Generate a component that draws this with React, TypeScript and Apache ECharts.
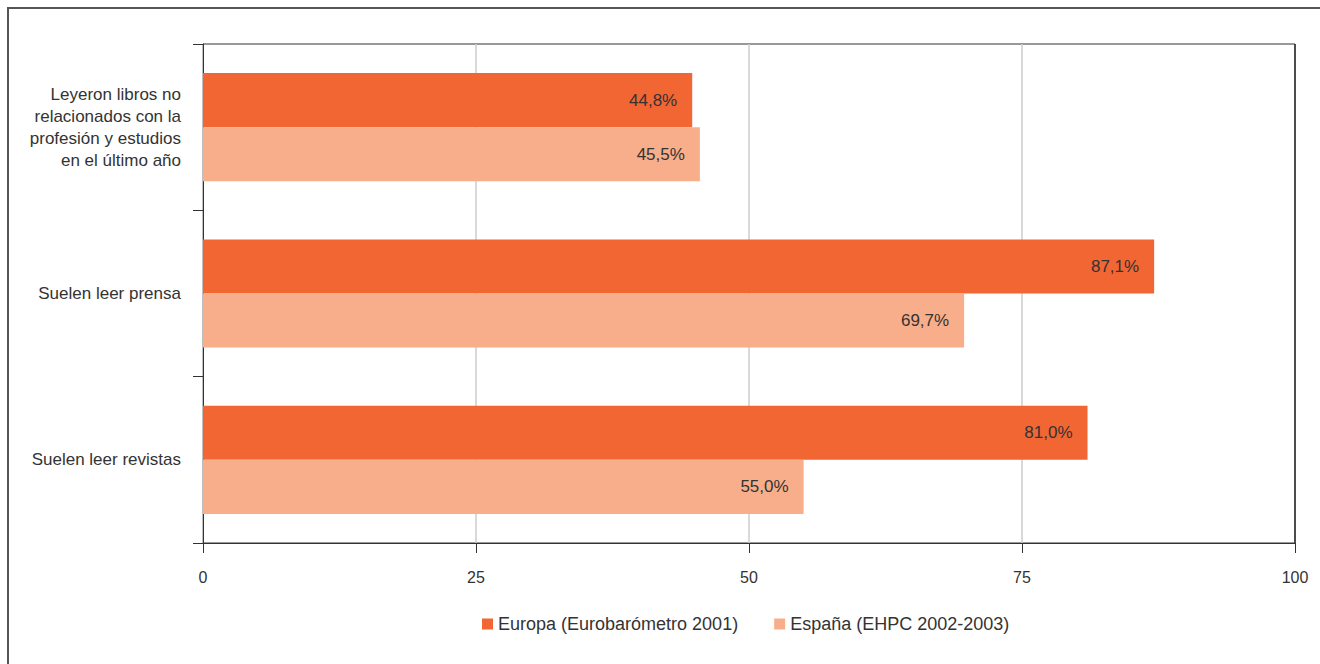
import React, { useEffect, useRef } from "react";
import * as echarts from "echarts";

const categories = [
  "Leyeron libros no\nrelacionados con la\nprofesión y estudios\nen el último año",
  "Suelen leer prensa",
  "Suelen leer revistas",
];
const seriesNames = ["Europa (Eurobarómetro 2001)", "España (EHPC 2002-2003)"];
const europa = [44.8, 87.1, 81.0];
const espana = [45.5, 69.7, 55.0];
const xTicks = { min: 0, max: 100, interval: 25 };

const FONT = "'Liberation Sans', Arial, sans-serif";
const fmt = (v: number) => v.toFixed(1).replace(".", ",") + "%";

export default function App() {
  const ref = useRef<HTMLDivElement>(null);
  useEffect(() => {
    if (!ref.current) return;
    const chart = echarts.init(ref.current, undefined, { renderer: "svg" });
    const label = {
      show: true,
      position: "insideRight" as const,
      distance: 15,
      color: "#333",
      fontFamily: FONT,
      fontSize: 17,
      formatter: (p: any) => fmt(p.value),
    };
    chart.setOption({
      animation: false,
      backgroundColor: "#fff",
      textStyle: { fontFamily: FONT },
      grid: {
        left: 203,
        right: 25,
        top: 44,
        bottom: 121,
        show: true,
        borderColor: "#333",
        borderWidth: 1,
      },
      legend: {
        left: 482,
        top: 615,
        padding: 0,
        itemWidth: 11,
        itemHeight: 11,
        itemGap: 36,
        icon: "rect",
        textStyle: { color: "#333", fontSize: 18, fontFamily: FONT },
        data: seriesNames,
      },
      xAxis: {
        type: "value",
        min: xTicks.min,
        max: xTicks.max,
        interval: xTicks.interval,
        axisLine: { show: true, lineStyle: { color: "#333", width: 1 } },
        axisTick: { show: true, length: 10, lineStyle: { color: "#333" } },
        axisLabel: { color: "#333", fontSize: 16, margin: 26, fontFamily: FONT },
        splitLine: {
          show: true,
          lineStyle: { color: ["#ccc", "#ccc", "#ccc", "#ccc", "#333"], width: 1.5 },
        },
      },
      yAxis: {
        type: "category",
        inverse: true,
        data: categories,
        axisLine: { show: true, lineStyle: { color: "#333", width: 1 } },
        axisTick: { show: true, length: 10, lineStyle: { color: "#333" } },
        axisLabel: {
          color: "#333",
          fontSize: 17,
          lineHeight: 22,
          margin: 22,
          align: "right",
          fontFamily: FONT,
        },
        splitLine: { show: false },
      },
      series: [
        {
          name: seriesNames[0],
          type: "bar",
          data: europa,
          barGap: "0%",
          barCategoryGap: "35%",
          itemStyle: { color: "#F26633" },
          label,
        },
        {
          name: seriesNames[1],
          type: "bar",
          data: espana,
          barGap: "0%",
          barCategoryGap: "35%",
          itemStyle: { color: "#F8AE8A" },
          label,
        },
      ],
      graphic: [
        {
          type: "line",
          shape: { x1: 7, y1: 8, x2: 1320, y2: 8 },
          style: { stroke: "#555", lineWidth: 2 },
        },
        {
          type: "line",
          shape: { x1: 8, y1: 7, x2: 8, y2: 664 },
          style: { stroke: "#555", lineWidth: 2 },
        },
      ],
    });
    return () => chart.dispose();
  }, []);
  return (
    <div
      ref={ref}
      style={{ position: "fixed", left: 0, top: 0, width: 1320, height: 664 }}
    />
  );
}
